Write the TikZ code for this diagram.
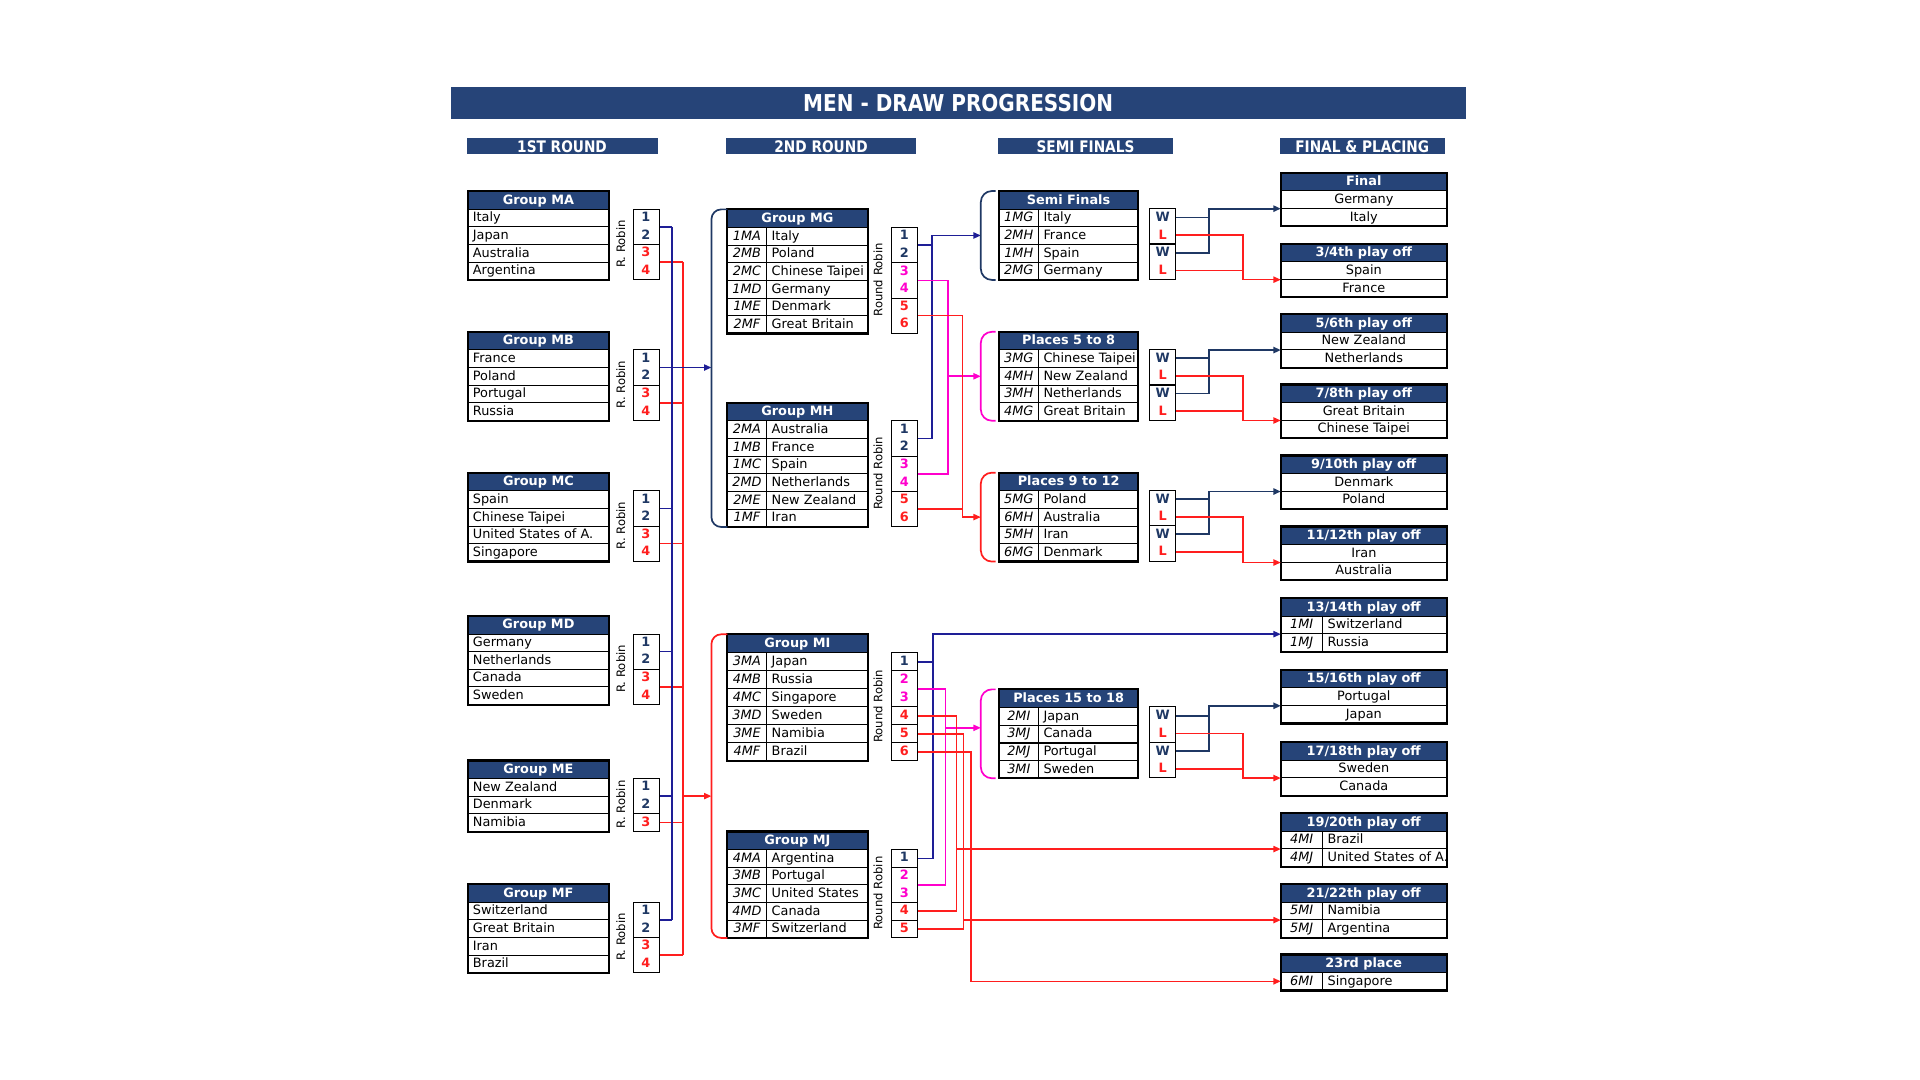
\documentclass[tikz,border=0pt]{standalone}
\usepackage{fontspec}
\setmainfont{DejaVu Sans}
\newfontfamily\narrowbf{DejaVu Sans}[FakeStretch=0.86]
\usetikzlibrary{arrows.meta,calc}

\definecolor{hdrblue}{RGB}{38,68,120}
\definecolor{lineblue}{RGB}{30,30,150}
\definecolor{navy}{RGB}{31,56,100}
\definecolor{linered}{RGB}{255,30,30}
\definecolor{linepink}{RGB}{255,0,204}

\newif\ifclipnames
\clipnamestrue

\tikzset{
  teamfont/.style={font=\fontsize{10.5}{12}\selectfont, text height=8pt, text depth=1.5pt},
  headcell/.style={draw=black, fill=hdrblue, text=white, inner sep=0pt, anchor=north west,
    font=\bfseries\fontsize{10.5}{12}\selectfont, text height=8pt, text depth=1.5pt},
  rowcell/.style={draw=black, line width=0.6pt, inner sep=0pt, anchor=north west},
  teamtext/.style={teamfont, anchor=west, inner sep=0pt},
  codetext/.style={teamtext, anchor=center, font=\itshape\fontsize{10.5}{12}\selectfont},
  rankbox/.style={draw=black, line width=0.7pt, minimum width=21pt, inner sep=0pt, anchor=north west},
  ranktext/.style={inner sep=0pt, font=\bfseries\fontsize{10.5}{12}\selectfont, text height=8pt, text depth=1.5pt},
  rrlabel/.style={rotate=90, inner sep=0pt, font=\fontsize{9.5}{11}\selectfont},
  border/.style={draw=black, line width=1.8pt},
  colhead/.style={fill=hdrblue, text=white, minimum height=13pt, inner sep=0pt,
    text height=9.5pt, text depth=0pt, font=\narrowbf\bfseries\fontsize{13}{14}\selectfont},
  bline/.style={draw=lineblue, line width=1.3pt},
  wline/.style={draw=navy, line width=1.5pt},
  rline/.style={draw=linered, line width=1.3pt},
  pline/.style={draw=linepink, line width=1.3pt},
  arr/.style={-{Triangle[length=6pt,width=5pt]}},
}

% #1 name, #2 left x, #3 top y, #4 width, #5 code column, #6 row height, #7 title, #8 code/team list
\newcommand{\grouptable}[8]{%
  \node[headcell, minimum width=#4pt, minimum height=#6pt] (#1) at (#2,#3) {#7};
  \foreach \cd/\tm [count=\i] in {#8}{%
    \xdef\nrows{\i}%
    \node[rowcell, minimum width=#4pt, minimum height=#6pt] (#1-\i) at (#2,{#3+#6*\i}) {};
    \begin{scope}
      \ifclipnames\clip (#1-\i.north west) rectangle (#1-\i.south east);\fi
      \ifdim #5pt>0pt
        \node[codetext] at ($(#1-\i.west)+(#5/2,0)$) {\cd};
        \node[teamtext] at ($(#1-\i.west)+(#5+4,0)$) {\tm};
      \else
        \node[teamtext] at ($(#1-\i.west)+(4,0)$) {\tm};
      \fi
    \end{scope}
  }
  \ifdim #5pt>0pt
    \draw[line width=0.6pt] ($(#1-1.north west)+(#5,0)$) -- ($(#1-\nrows.south west)+(#5,0)$);
  \fi
  \draw[border] (#1.north west) rectangle (#1-\nrows.south east);
}

% #1 name, #2 top y, #3 title, #4 teams
\newcommand{\placebox}[4]{%
  \node[headcell, minimum width=135pt, minimum height=14.4pt] (#1) at (1046,#2) {#3};
  \foreach \tm [count=\i] in {#4}{%
    \xdef\nrows{\i}%
    \node[rowcell, teamfont, minimum width=135pt, minimum height=14.4pt] (#1-\i) at (1046,{#2+14.4*\i}) {\tm};
  }
  \draw[border] (#1.north west) rectangle (#1-\nrows.south east);
}

% #1 name, #2 left x, #3 top y, #4 row height, #5 label/colour list
\newcommand{\rankcell}[5]{%
  \foreach \rlab/\rcol [count=\k] in {#5}{%
    \xdef\nk{\k}%
    \node[ranktext, text=\rcol] at ({#2+10.5},{#3+#4*(\k-0.5)}) {\rlab};
  }
  \node[rankbox, minimum height=\nk*#4pt] (#1) at (#2,{#3}) {};
}

% #1 name, #2 top y of table
\newcommand{\wlcell}[2]{%
  \foreach \lt/\cl/\nm [count=\k] in {W/navy/w1,L/linered/l1,W/navy/w2,L/linered/l2}{%
    \node[ranktext, text=\cl, minimum width=21pt, minimum height=14.4pt] (#1\nm) at (949.5,{#2+14.4*(\k+0.5)}) {\lt};
  }
  \draw[line width=0.7pt] (#1w1.north west) rectangle (#1l1.south east);
  \draw[line width=0.7pt] (#1w2.north west) rectangle (#1l2.south east);
}

% #1 name, #2 winner target, #3 loser target
\newcommand{\wlarrows}[3]{%
  \draw[wline] (#1w1.east) -- (xw |- #1w1.east);
  \draw[wline, arr] (#1w2.east) -| (xw |- #2) -- (#2);
  \draw[rline] (#1l2.east) -- (xl |- #1l2.east);
  \draw[rline, arr] (#1l1.east) -| (xl |- #3) -- (#3);
}

% #1 group, #2 top y, #3 teams, #4 lower rank cell
\newcommand{\firstround}[4]{%
  \grouptable{#1}{382}{#2}{115}{0}{14.4}{Group #1}{#3}%
  \node[rrlabel] (rr#1) at (507,{#2+14.4*(1+\nrows/2)}) {R. Robin};
  \rankcell{r#1-1}{517}{#2+14.4}{14.4}{1/navy,2/navy}%
  \rankcell{r#1-3}{517}{#2+43.2}{14.4}{#4}%
}

% #1 group, #2 top y, #3 row height, #4 teams
\newcommand{\secondround}[4]{%
  \grouptable{#1}{594}{#2}{114}{32}{#3}{Group #1}{#4}%
  \node[rrlabel] (rr#1) at (717,{#2+#3*(1+\nrows/2)}) {Round Robin};
}

\begin{document}
\begin{tikzpicture}[x=1pt, y=-1pt]
\useasboundingbox (0,0) rectangle (1568,882);

% headings
\node[fill=hdrblue, minimum width=829pt, minimum height=26pt, inner sep=0pt, text=white,
  font=\narrowbf\bfseries\fontsize{19}{20}\selectfont] (title) at (782.5,84) {MEN - DRAW PROGRESSION};
\node[colhead, minimum width=156pt] (hround1) at (459,119.5) {1ST ROUND};
\node[colhead, minimum width=155pt] (hround2) at (670.5,119.5) {2ND ROUND};
\node[colhead, minimum width=143pt] (hsemi) at (886.5,119.5) {SEMI FINALS};
\node[colhead, minimum width=135pt] (hfinal) at (1112.5,119.5) {FINAL \& PLACING};

% 1st round
\firstround{MA}{156}{-/Italy,-/Japan,-/Australia,-/Argentina}{3/linered,4/linered}
\firstround{MB}{271}{-/France,-/Poland,-/Portugal,-/Russia}{3/linered,4/linered}
\firstround{MC}{386}{-/Spain,-/Chinese Taipei,-/United States of A.,-/Singapore}{3/linered,4/linered}
\firstround{MD}{503}{-/Germany,-/Netherlands,-/Canada,-/Sweden}{3/linered,4/linered}
\firstround{ME}{621}{-/New Zealand,-/Denmark,-/Namibia}{3/linered}
\firstround{MF}{722}{-/Switzerland,-/Great Britain,-/Iran,-/Brazil}{3/linered,4/linered}

% 2nd round
\secondround{MG}{171}{14.4}{1MA/Italy,2MB/Poland,2MC/Chinese Taipei,1MD/Germany,1ME/Denmark,2MF/Great Britain}
\rankcell{rMG-1}{728}{171+14.4}{14.4}{1/navy,2/navy}
\rankcell{rMG-3}{728}{171+43.2}{14.4}{3/linepink,4/linepink}
\rankcell{rMG-5}{728}{171+72}{14.4}{5/linered,6/linered}
\secondround{MH}{329}{14.4}{2MA/Australia,1MB/France,1MC/Spain,2MD/Netherlands,2ME/New Zealand,1MF/Iran}
\rankcell{rMH-1}{728}{329+14.4}{14.4}{1/navy,2/navy}
\rankcell{rMH-3}{728}{329+43.2}{14.4}{3/linepink,4/linepink}
\rankcell{rMH-5}{728}{329+72}{14.4}{5/linered,6/linered}
\secondround{MI}{518}{14.7}{3MA/Japan,4MB/Russia,4MC/Singapore,3MD/Sweden,3ME/Namibia,4MF/Brazil}
\rankcell{rMI-1}{728}{518+14.7}{14.7}{1/navy}
\rankcell{rMI-2}{728}{518+29.4}{14.7}{2/linepink,3/linepink}
\rankcell{rMI-4}{728}{518+58.8}{14.7}{4/linered}
\rankcell{rMI-5}{728}{518+73.5}{14.7}{5/linered}
\rankcell{rMI-6}{728}{518+88.2}{14.7}{6/linered}
\secondround{MJ}{679}{14.4}{4MA/Argentina,3MB/Portugal,3MC/United States,4MD/Canada,3MF/Switzerland}
\rankcell{rMJ-1}{728}{679+14.4}{14.4}{1/navy}
\rankcell{rMJ-2}{728}{679+28.8}{14.4}{2/linepink,3/linepink}
\rankcell{rMJ-4}{728}{679+57.6}{14.4}{4/linered}
\rankcell{rMJ-5}{728}{679+72}{14.4}{5/linered}

% semi finals and places
\grouptable{SF}{816}{156}{113}{32}{14.4}{Semi Finals}{1MG/Italy,2MH/France,1MH/Spain,2MG/Germany}
\grouptable{PA}{816}{271}{113}{32}{14.4}{Places 5 to 8}{3MG/Chinese Taipei,4MH/New Zealand,3MH/Netherlands,4MG/Great Britain}
\grouptable{PB}{816}{386}{113}{32}{14.4}{Places 9 to 12}{5MG/Poland,6MH/Australia,5MH/Iran,6MG/Denmark}
\grouptable{PC}{816}{563}{113}{32}{14.4}{Places 15 to 18}{2MI/Japan,3MJ/Canada,2MJ/Portugal,3MI/Sweden}
\foreach \s in {SF,PA,PB,PC}
  \draw[line width=1.2pt] (\s-2.south west) -- (\s-2.south east);
\wlcell{wSF}{156}
\wlcell{wPA}{271}
\wlcell{wPB}{386}
\wlcell{wPC}{563}

% final and placing
\placebox{Ffin}{141}{Final}{Germany,Italy}
\placebox{F34}{199}{3/4th play off}{Spain,France}
\placebox{F56}{256.5}{5/6th play off}{New Zealand,Netherlands}
\placebox{F78}{314}{7/8th play off}{Great Britain,Chinese Taipei}
\placebox{F910}{372}{9/10th play off}{Denmark,Poland}
\placebox{F1112}{430}{11/12th play off}{Iran,Australia}
\clipnamesfalse
\grouptable{F1314}{1046}{488.5}{135}{34}{14.4}{13/14th play off}{1MI/Switzerland,1MJ/Russia}
\placebox{F1516}{547}{15/16th play off}{Portugal,Japan}
\placebox{F1718}{606}{17/18th play off}{Sweden,Canada}
\grouptable{F1920}{1046}{664}{135}{34}{14.4}{19/20th play off}{4MI/Brazil,4MJ/United States of A.}
\grouptable{F2122}{1046}{722}{135}{34}{14.4}{21/22th play off}{5MI/Namibia,5MJ/Argentina}
\grouptable{F23}{1046}{779.5}{135}{34}{14.4}{23rd place}{6MI/Singapore}

% junction columns
\coordinate (xb) at (549,0);
\coordinate (xr) at (558,0);
\coordinate (bGH) at (581,0);
\coordinate (bIJ) at (581,0);
\coordinate (xg1) at (761,0);
\coordinate (xg2) at (774,0);
\coordinate (xg3) at (786,0);
\coordinate (xi1) at (762,0);
\coordinate (xi2) at (772,0);
\coordinate (xi3) at (781,0);
\coordinate (xi4) at (787,0);
\coordinate (xi5) at (793,0);
\coordinate (bS) at (801,0);
\coordinate (xw) at (987,0);
\coordinate (xl) at (1015,0);
\coordinate (aSF) at (bS |- SF-2.center);
\coordinate (aPA) at (bS |- PA-2.center);
\coordinate (aPB) at (bS |- PB-2.center);
\coordinate (aPC) at ($(bS |- PC-1.south west)+(0,2)$);

% 1st round to 2nd round
\foreach \g in {MA,MB,MC,MD,ME,MF}{
  \draw[bline] (r\g-1.east) -- (xb |- r\g-1.east);
  \draw[rline] (r\g-3.east) -- (xr |- r\g-3.east);
}
\draw[bline] (xb |- rMA-1.east) -- (xb |- rMF-1.east);
\draw[rline] (xr |- rMA-3.east) -- (xr |- rMF-3.east);
\draw[bline, arr] (xb |- rMB-1.east) -- (bGH |- rMB-1.east);
\draw[rline, arr] (xr |- rME-1.east) -- (bIJ |- rME-1.east);
\draw[navy, line width=1.4pt, rounded corners=8pt] (MG.north west) -- (bGH |- MG.north west) -- (bGH |- MH-6.south west) -- (MH-6.south west);
\draw[linered, line width=1.4pt, rounded corners=8pt] (MI.north west) -- (bIJ |- MI.north west) -- (bIJ |- MJ-5.south west) -- (MJ-5.south west);

% 2nd round to semi finals
\draw[bline] (rMG-1.east) -- (xg1 |- rMG-1.east);
\draw[bline, arr] (rMH-1.east) -| (xg1 |- aSF) -- (aSF);
\draw[pline] (rMG-3.east) -| (xg2 |- rMH-3.east) -- (rMH-3.east);
\draw[pline, arr] (xg2 |- aPA) -- (aPA);
\draw[rline] (rMH-5.east) -- (xg3 |- rMH-5.east);
\draw[rline, arr] (rMG-5.east) -| (xg3 |- aPB) -- (aPB);

\draw[bline] (rMI-1.east) -- (xi1 |- rMI-1.east);
\draw[bline, arr] (rMJ-1.east) -| (xi1 |- F1314-1.south west) -- (F1314-1.south west);
\draw[pline] (rMI-2.east) -| (xi2 |- rMJ-2.east) -- (rMJ-2.east);
\draw[pline, arr] (xi2 |- aPC) -- (aPC);
\draw[rline] (rMI-4.east) -| (xi3 |- rMJ-4.east) -- (rMJ-4.east);
\draw[rline, arr] (xi3 |- F1920-1.south west) -- (F1920-1.south west);
\draw[rline] (rMI-5.east) -| (xi4 |- rMJ-5.east) -- (rMJ-5.east);
\draw[rline, arr] (xi4 |- F2122-1.south west) -- (F2122-1.south west);
\draw[rline, arr] (rMI-6.east) -| (xi5 |- F23-1.west) -- (F23-1.west);

\foreach \s/\cl in {SF/navy,PA/linepink,PB/linered,PC/linepink}
  \draw[draw=\cl, line width=1.4pt, rounded corners=9pt] ($(\s.north west)+(-3,0)$) -- (bS |- \s.north west) -- (bS |- \s-4.south west) -- ($(\s-4.south west)+(-3,0)$);

% semi finals to final and placing
\wlarrows{wSF}{Ffin-1.south west}{F34-1.south west}
\wlarrows{wPA}{F56-1.south west}{F78-1.south west}
\wlarrows{wPB}{F910-1.south west}{F1112-1.south west}
\wlarrows{wPC}{F1516-1.south west}{F1718-1.south west}
\end{tikzpicture}
\end{document}
